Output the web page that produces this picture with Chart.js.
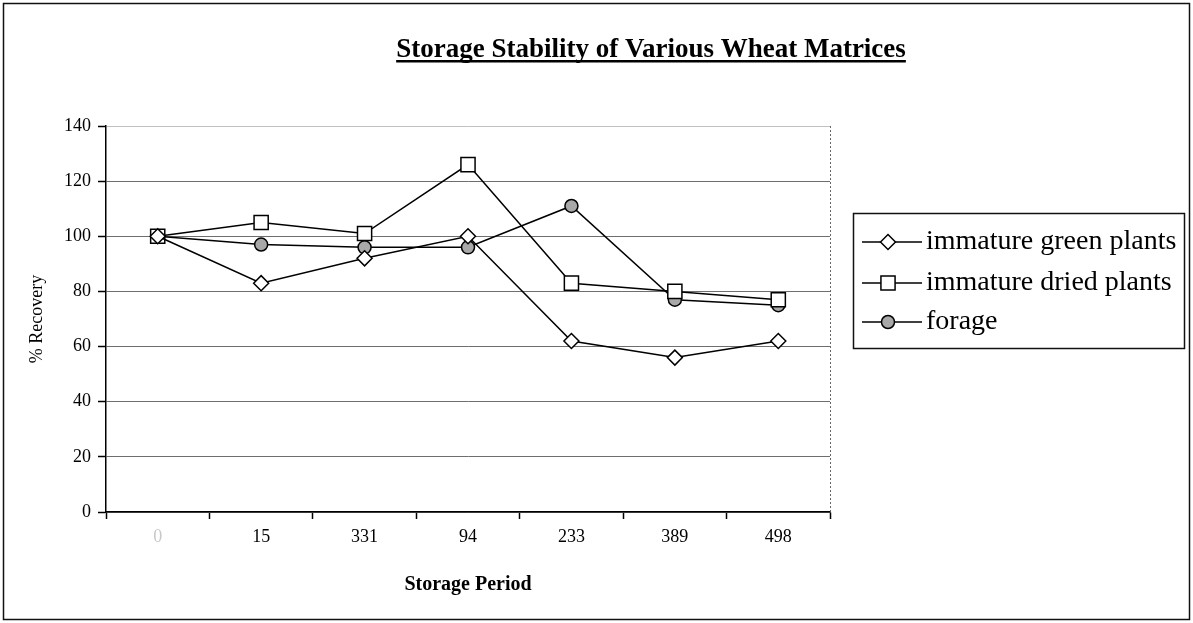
<!DOCTYPE html>
<html>
<head>
<meta charset="utf-8">
<script src="https://cdn.jsdelivr.net/npm/chart.js@4.4.1/dist/chart.umd.min.js"></script>
<style>
  html, body { margin: 0; padding: 0; background: #fff; }
  #wrap { width: 1193px; height: 623px; position: relative; }
</style>
</head>
<body>
<div id="wrap"><canvas id="c" width="1193" height="623"></canvas></div>
<script>
const chartTitle = 'Storage Stability of Various Wheat Matrices';
const xTitle = 'Storage Period';
const yTitle = '% Recovery';
const categories = ['0', '15', '331', '94', '233', '389', '498'];
const seriesNames = ['immature green plants', 'immature dried plants', 'forage'];
const greenPlants = [100, 83, 92, 100, 62, 56, 62];
const driedPlants = [100, 105, 101, 126, 83, 80, 77];
const forage = [100, 97, 96, 96, 111, 77, 75];
const yMin = 0, yMax = 140, yStep = 20;

const SERIF = '"Liberation Serif", "Times New Roman", serif';

const frame = {
  id: 'frame',
  beforeDraw(chart) {
    const ctx = chart.ctx;
    ctx.save();
    ctx.fillStyle = '#fff';
    ctx.fillRect(0, 0, chart.width, chart.height);
    ctx.restore();
  },
  afterDraw(chart) {
    const ctx = chart.ctx;
    const a = chart.chartArea;
    ctx.save();
    // outer border
    ctx.strokeStyle = '#111';
    ctx.lineWidth = 1.5;
    ctx.strokeRect(3.5, 3.5, chart.width - 7, chart.height - 7);
    // plot area right dotted border
    ctx.strokeStyle = '#666';
    ctx.lineWidth = 1;
    ctx.setLineDash([2, 2]);
    ctx.beginPath();
    ctx.moveTo(a.right + 0.5, a.top);
    ctx.lineTo(a.right + 0.5, a.bottom);
    ctx.stroke();
    ctx.setLineDash([]);
    // title
    ctx.fillStyle = '#000';
    ctx.font = 'bold 27px ' + SERIF;
    ctx.textAlign = 'center';
    ctx.textBaseline = 'alphabetic';
    const cx = 651, by = 57;
    ctx.fillText(chartTitle, cx, by);
    const w = ctx.measureText(chartTitle).width;
    ctx.fillRect(cx - w / 2, by + 3, w, 2.5);
    // legend
    const lx = 853, ly = 213, lw = 331, lh = 135;
    ctx.strokeStyle = '#111';
    ctx.lineWidth = 1.5;
    ctx.strokeRect(lx + 0.5, ly + 0.5, lw, lh);
    const rows = [242, 283, 322];
    ctx.textAlign = 'left';
    ctx.textBaseline = 'middle';
    chart.data.datasets.forEach((ds, i) => {
      const y = rows[i];
      ctx.strokeStyle = '#000';
      ctx.lineWidth = 1.5;
      ctx.beginPath();
      ctx.moveTo(862, y);
      ctx.lineTo(922, y);
      ctx.stroke();
      ctx.fillStyle = ds.pointBackgroundColor;
      ctx.strokeStyle = '#000';
      Chart.helpers.drawPoint(ctx, {
        pointStyle: ds.pointStyle,
        radius: ds.pointRadius,
        borderWidth: ds.pointBorderWidth
      }, 888, y);
      ctx.fillStyle = '#000';
      ctx.font = '28px ' + SERIF;
      ctx.fillText(ds.label, 926, y);
    });
    ctx.restore();
  }
};

function makeDs(label, data, style, radius, fill) {
  return {
    label, data,
    borderColor: '#000',
    borderWidth: 1.5,
    pointStyle: style,
    pointRadius: radius,
    pointHoverRadius: radius,
    pointBackgroundColor: fill,
    pointBorderColor: '#000',
    pointBorderWidth: 1.5,
    tension: 0,
    fill: false
  };
}

const chart = new Chart(document.getElementById('c'), {
  type: 'line',
  data: {
    labels: categories,
    datasets: [
      makeDs(seriesNames[0], greenPlants, 'rectRot', 7.5, '#fff'),
      makeDs(seriesNames[1], driedPlants, 'rect', 10, '#fff'),
      makeDs(seriesNames[2], forage, 'circle', 6.5, '#a8a8a8')
    ]
  },
  options: {
    responsive: false,
    animation: false,
    events: [],
    layout: { padding: { left: 0, top: 126, right: 363, bottom: 0 } },
    plugins: {
      legend: { display: false },
      title: { display: false },
      tooltip: { enabled: false }
    },
    scales: {
      x: {
        type: 'category',
        offset: true,
        afterFit(s) { s.height = 111; },
        grid: {
          display: true,
          offset: true,
          drawOnChartArea: false,
          drawTicks: true,
          tickLength: 7,
          tickColor: '#000',
          tickWidth: 1.5
        },
        border: { display: true, color: '#000', width: 1.5 },
        ticks: {
          font: { family: SERIF, size: 18 },
          color: (c) => c.index === 0 ? '#c8c8c8' : '#000',
          padding: 7,
          maxRotation: 0,
          autoSkip: false
        },
        title: {
          display: true,
          text: xTitle,
          font: { family: SERIF, size: 20, weight: 'bold' },
          color: '#000',
          padding: { top: 0, bottom: 26 }
        }
      },
      y: {
        min: yMin, max: yMax,
        afterFit(s) { s.width = 106; },
        grid: {
          color: (c) => c.tick && c.tick.value === yMax ? '#c0c0c0' : '#6e6e6e',
          lineWidth: 1,
          drawTicks: true,
          tickLength: 8,
          tickColor: '#000',
          tickWidth: 1.5
        },
        border: { display: true, color: '#000', width: 1.5 },
        ticks: {
          stepSize: yStep,
          font: { family: SERIF, size: 18 },
          color: '#000',
          padding: 7
        },
        title: {
          display: true,
          text: yTitle,
          font: { family: SERIF, size: 18 },
          color: '#000',
          padding: { top: 26, bottom: 0 }
        }
      }
    }
  },
  plugins: [frame]
});
</script>
</body>
</html>
